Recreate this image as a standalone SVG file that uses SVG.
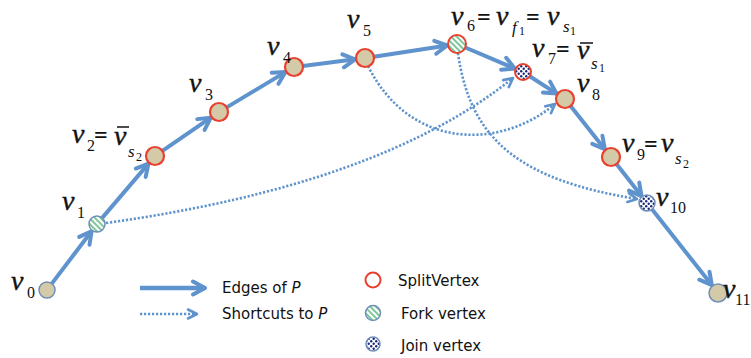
<svg xmlns="http://www.w3.org/2000/svg" width="751" height="358" viewBox="0 0 751 358">
<style>
.edge{fill:none;stroke:#5F93CD;stroke-width:4;marker-end:url(#arr)}
.short{fill:none;stroke:#5F93CD;stroke-width:2.6;stroke-dasharray:2.2 1.8;marker-end:url(#arrs)}
.split{fill:#D4CAA8;stroke:#E8412F;stroke-width:2.2}
.plain{fill:#D4CAA8;stroke:#6F8FB8;stroke-width:1.5}
.fork{fill:url(#stripes)}
.join{fill:url(#dots)}
.v{font-family:"Liberation Serif",serif;font-style:italic;font-size:28px;fill:#111;stroke:#111;stroke-width:0.4}
.i{font-family:"Liberation Serif",serif;font-style:italic;font-size:17px;fill:#111}
.sub{font-family:"Liberation Serif",serif;font-size:16px;fill:#111}
.ss{font-family:"Liberation Serif",serif;font-size:12px;fill:#111}
.eq{font-family:"Liberation Serif",serif;font-weight:bold;font-size:24px;fill:#111}
.leg{font-family:"DejaVu Sans","Liberation Sans",sans-serif;font-size:15px;fill:#111}
.bar{stroke:#111;stroke-width:1.5}
</style>
<defs>
<marker id="arr" markerUnits="userSpaceOnUse" viewBox="0 0 18 18" markerWidth="18" markerHeight="18" refX="15" refY="9" orient="auto">
<path d="M3,2.5 L15,9 L3,15.5" fill="none" stroke="#5F93CD" stroke-width="4" stroke-linecap="round" stroke-linejoin="round"/>
</marker>
<marker id="arrs" markerUnits="userSpaceOnUse" viewBox="0 0 14 14" markerWidth="14" markerHeight="14" refX="12" refY="7" orient="auto">
<path d="M3,2.5 L12,7 L3,11.5" fill="none" stroke="#5F93CD" stroke-width="2.6" stroke-linecap="round" stroke-linejoin="round"/>
</marker>
<pattern id="stripes" patternUnits="userSpaceOnUse" width="4" height="4" patternTransform="rotate(-45)">
<rect width="4" height="4" fill="#fff"/>
<rect width="2" height="4" fill="#7DC79B"/>
</pattern>
<pattern id="dots" patternUnits="userSpaceOnUse" width="5" height="5">
<rect width="5" height="5" fill="#fff"/>
<circle cx="1.2" cy="1.2" r="1.2" fill="#1B2A78"/>
<circle cx="3.7" cy="3.7" r="1.2" fill="#1B2A78"/>
</pattern>
</defs>

<g id="connectors">
<path class="edge" d="M51.8,283.6 L91.6,231.2"/>
<path class="edge" d="M102.2,217.9 L148.5,163.6"/>
<path class="edge" d="M162.4,150.9 L210.8,117.7"/>
<path class="edge" d="M226.7,107.4 L285.4,72.1"/>
<path class="edge" d="M302.9,65.9 L355.1,59.3"/>
<path class="edge" d="M373.9,56.7 L447.1,45.5"/>
<path class="edge" d="M465.3,47.5 L514.7,68.5"/>
<path class="edge" d="M529.7,76.3 L556.6,93.6"/>
<path class="edge" d="M570.6,106.1 L604.8,149.2"/>
<path class="edge" d="M616.5,164.1 L641.5,196.1"/>
<path class="edge" d="M652,209.3 L711.8,285.1"/>
<path class="short" d="M106,223 Q380,185 513,78"/>
<path class="short" d="M368,66 C410,150 500,150 555,104"/>
<path class="short" d="M458,53 C470,140 520,180 637,199"/>
</g>

<g id="v0"><circle class="plain" cx="47" cy="290" r="8"/><text class="v" x="11" y="290">v</text><text class="sub" x="27" y="298">0</text></g>
<g id="v1"><circle class="fork" cx="97" cy="224" r="8" stroke="#6F8FB8" stroke-width="1.5"/><text class="v" x="62" y="210">v</text><text class="sub" x="77" y="218">1</text></g>
<g id="v2"><circle class="split" cx="155" cy="156" r="9"/><text class="v" x="72" y="143">v</text><text class="sub" x="87" y="151">2</text><text class="eq" x="94" y="143">=</text><text class="v" x="114" y="145">v</text><line class="bar" x1="117" y1="127" x2="129" y2="127"/><text class="i" x="128" y="157">s</text><text class="ss" x="136" y="161">2</text></g>
<g id="v3"><circle class="split" cx="219" cy="112" r="9"/><text class="v" x="189" y="92">v</text><text class="sub" x="205" y="100">3</text></g>
<g id="v4"><circle class="split" cx="294" cy="67" r="9"/><text class="v" x="267" y="55">v</text><text class="sub" x="283" y="63">4</text></g>
<g id="v5"><circle class="split" cx="365" cy="58" r="9"/><text class="v" x="347" y="28">v</text><text class="sub" x="363" y="36">5</text></g>
<g id="v6"><circle class="fork" cx="457" cy="44" r="9" stroke="#E8412F" stroke-width="2"/><text class="v" x="451" y="25">v</text><text class="sub" x="467" y="31">6</text><text class="eq" x="477" y="25">=</text><text class="v" x="496" y="25">v</text><text class="i" x="512" y="33">f</text><text class="ss" x="519" y="35">1</text><text class="eq" x="526" y="25">=</text><text class="v" x="547" y="25">v</text><text class="i" x="563" y="32">s</text><text class="ss" x="570" y="35">1</text></g>
<g id="v7"><circle class="join" cx="523" cy="72" r="8" stroke="#E8412F" stroke-width="2"/><text class="v" x="532" y="57">v</text><text class="sub" x="548" y="64">7</text><text class="eq" x="556" y="57">=</text><text class="v" x="577" y="59">v</text><line class="bar" x1="580" y1="43" x2="593" y2="43"/><text class="i" x="591" y="69">s</text><text class="ss" x="599" y="72">1</text></g>
<g id="v8"><circle class="split" cx="565" cy="99" r="9"/><text class="v" x="577" y="92">v</text><text class="sub" x="592" y="100">8</text></g>
<g id="v9"><circle class="split" cx="611" cy="157" r="9"/><text class="v" x="622" y="152">v</text><text class="sub" x="637" y="160">9</text><text class="eq" x="644" y="152">=</text><text class="v" x="661" y="152">v</text><text class="i" x="675" y="164">s</text><text class="ss" x="683" y="168">2</text></g>
<g id="v10"><circle class="join" cx="647" cy="203" r="8" stroke="#6F8FB8" stroke-width="1.5"/><text class="v" x="656" y="206">v</text><text class="sub" x="670" y="213">10</text></g>
<g id="v11"><circle class="plain" cx="718" cy="293" r="9"/><text class="v" x="723" y="298">v</text><text class="sub" x="735" y="305" font-size="14">11</text></g>

<g id="legend">
<path d="M140,288 L205,288" fill="none" stroke="#5F93CD" stroke-width="4.5" marker-end="url(#arr)"/>
<text class="leg" x="222" y="293">Edges of <tspan font-style="italic">P</tspan></text>
<path class="short" d="M140,314 L197,314"/>
<text class="leg" x="222" y="319">Shortcuts to <tspan font-style="italic">P</tspan></text>
<circle cx="373" cy="280" r="7.5" fill="#fff" stroke="#E8412F" stroke-width="2"/>
<text class="leg" x="398" y="286">SplitVertex</text>
<circle class="fork" cx="373" cy="313" r="7.5" stroke="#6F8FB8" stroke-width="1.5"/>
<text class="leg" x="401" y="319">Fork vertex</text>
<circle class="join" cx="373" cy="344" r="7" stroke="#6F8FB8" stroke-width="1.5"/>
<text class="leg" x="401" y="351">Join vertex</text>
</g>
</svg>
